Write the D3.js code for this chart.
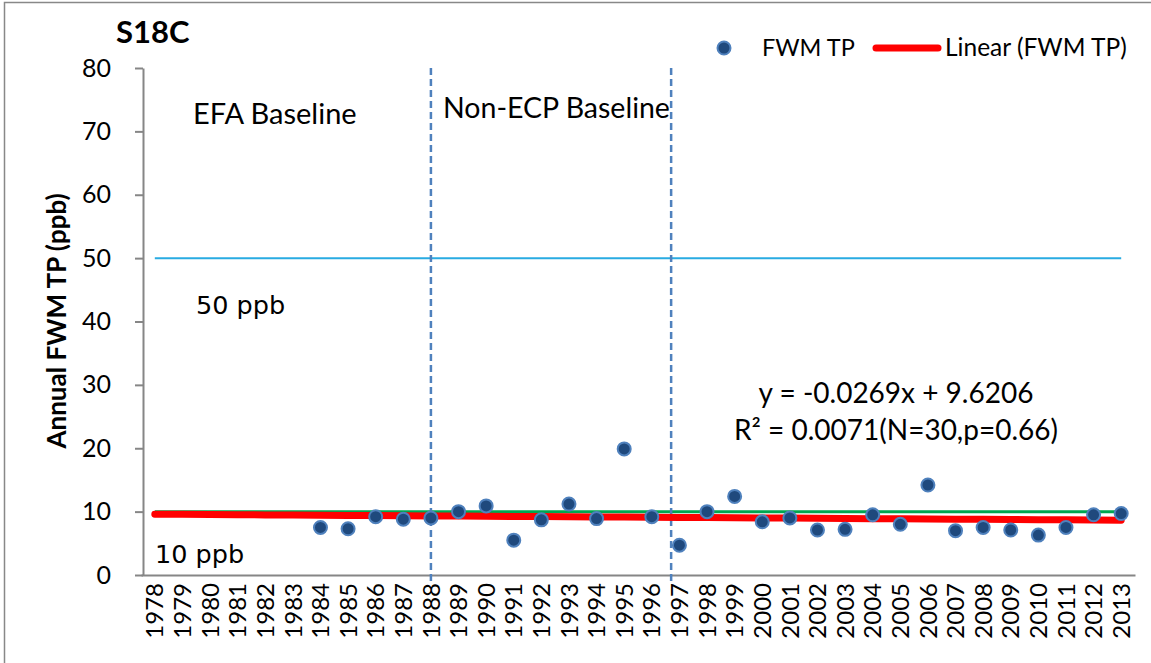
<!DOCTYPE html>
<html>
<head>
<meta charset="utf-8">
<script src="https://cdn.jsdelivr.net/npm/d3@7"></script>
<style>
  html, body { margin: 0; padding: 0; background: #fff; }
  svg { display: block; }
</style>
</head>
<body>
<svg id="chart" width="1151" height="663"></svg>
<script>
// Station S18C — annual flow-weighted mean total phosphorus
const years = d3.range(1978, 2014).map(String);
const obsYears = d3.range(1984, 2014).map(String);
const fwmTP = [7.5, 7.3, 9.2, 8.8, 9.0, 10.0, 10.9, 5.5, 8.7, 11.2,
               8.9, 19.9, 9.2, 4.7, 10.0, 12.4, 8.4, 9.0, 7.1, 7.2,
               9.5, 8.0, 14.2, 7.0, 7.5, 7.1, 6.3, 7.5, 9.5, 9.7];
const yTicks = [0, 10, 20, 30, 40, 50, 60, 70, 80];
// Linear trend y = slope*x + intercept, x = 1 for the first category
const trendSlope = -0.0269;
const trendIntercept = 9.6206;
const limits = [50, 10];
const periodBreaks = [1988, 1996.7];
const periodLabels = ["EFA Baseline", "Non-ECP Baseline"];

const SANS = "Lato, 'Open Sans', sans-serif";
const WIDE = "'DejaVu Sans', Verdana, sans-serif";

const svg = d3.select("#chart").style("font-family", SANS);

const x = d3.scaleBand().domain(years).range([141, 1135]).paddingInner(0).paddingOuter(0);
const y = d3.scaleLinear().domain([0, 80]).range([575, 68]);
const xc = yr => x(String(yr)) + x.bandwidth() / 2;
const xYear = yr => xc(1978) + (yr - 1978) * x.step();

// outer frame
svg.append("rect").attr("x", 4.5).attr("y", 2.5).attr("width", 1200).attr("height", 700)
  .attr("fill", "none").attr("stroke", "#888").attr("stroke-width", 1.5);

// title
svg.append("text").attr("x", 116).attr("y", 43)
  .style("font-size", "31px").style("font-weight", "bold").text("S18C");

// y axis
const yAxis = svg.append("g").attr("transform", "translate(143,0)")
  .call(d3.axisLeft(y).tickValues(yTicks).tickSizeInner(8).tickSizeOuter(0).tickPadding(24));
yAxis.selectAll("path, line").attr("stroke", "#868686").attr("stroke-width", 2);
yAxis.selectAll("text").style("font-size", "25px").style("font-family", SANS).attr("fill", "#000");

// x axis
const xAxis = svg.append("g").attr("transform", "translate(0,575)")
  .call(d3.axisBottom(x).tickSize(0).tickPadding(8));
xAxis.select("path").attr("stroke", "#868686").attr("stroke-width", 2);
xAxis.selectAll("text")
  .style("font-size", "24px").style("font-family", SANS).attr("fill", "#000")
  .attr("transform", "rotate(-90)")
  .attr("text-anchor", "end")
  .attr("x", -8).attr("y", 0).attr("dy", "0.36em");

// y axis title
svg.append("text")
  .attr("transform", "translate(57,321) rotate(-90)")
  .attr("text-anchor", "middle").attr("dy", "0.35em")
  .style("font-size", "26px").style("font-weight", "bold")
  .text("Annual FWM TP (ppb)");

// reference limits
svg.append("line").attr("x1", xc(1978)).attr("x2", xc(2013))
  .attr("y1", y(limits[0])).attr("y2", y(limits[0]))
  .attr("stroke", "#29abe2").attr("stroke-width", 2);
svg.append("line").attr("x1", xc(1978)).attr("x2", xc(2013))
  .attr("y1", y(limits[1])).attr("y2", y(limits[1]))
  .attr("stroke", "#00a650").attr("stroke-width", 3);

// period boundaries
svg.selectAll("line.period").data(periodBreaks).join("line")
  .attr("class", "period")
  .attr("x1", d => xYear(d)).attr("x2", d => xYear(d))
  .attr("y1", y(80)).attr("y2", 583)
  .attr("stroke", "#4f81bd").attr("stroke-width", 2.5)
  .attr("stroke-dasharray", "7,4");

// trend line
const trendPts = years.map((yr, i) => [xc(yr), y(trendSlope * (i + 1) + trendIntercept)]);
svg.append("path").attr("d", d3.line()(trendPts))
  .attr("fill", "none").attr("stroke", "#ff0000").attr("stroke-width", 7)
  .attr("stroke-linecap", "round");

// observations
svg.selectAll("circle.obs").data(obsYears.map((yr, i) => [yr, fwmTP[i]])).join("circle")
  .attr("class", "obs")
  .attr("cx", d => xc(d[0])).attr("cy", d => y(d[1])).attr("r", 6.5)
  .attr("fill", "#1f497d").attr("stroke", "#4f81bd").attr("stroke-width", 2);

// annotations
svg.append("text").attr("x", 193).attr("y", 124).style("font-size", "29px").text(periodLabels[0]);
svg.append("text").attr("x", 443).attr("y", 118).style("font-size", "28.5px").text(periodLabels[1]);
svg.append("text").attr("x", 196).attr("y", 314).style("font-size", "25.5px")
  .style("font-family", WIDE).text(limits[0] + " ppb");
svg.append("text").attr("x", 155).attr("y", 563).style("font-size", "25.5px")
  .style("font-family", WIDE).text(limits[1] + " ppb");
svg.append("text").attr("x", 896).attr("y", 403).attr("text-anchor", "middle")
  .style("font-size", "28px").text("y = -0.0269x + 9.6206");
svg.append("text").attr("x", 896).attr("y", 440).attr("text-anchor", "middle")
  .style("font-size", "28px").text("R² = 0.0071(N=30,p=0.66)");

// legend
const lg = svg.append("g");
lg.append("circle").attr("cx", 724).attr("cy", 48).attr("r", 6.5)
  .attr("fill", "#1f497d").attr("stroke", "#4f81bd").attr("stroke-width", 2);
lg.append("text").attr("x", 762).attr("y", 56).style("font-size", "23.5px").text("FWM TP");
lg.append("line").attr("x1", 876).attr("x2", 938).attr("y1", 48).attr("y2", 48)
  .attr("stroke", "#ff0000").attr("stroke-width", 7).attr("stroke-linecap", "round");
lg.append("text").attr("x", 945).attr("y", 56).style("font-size", "24.5px").text("Linear (FWM TP)");
</script>
</body>
</html>
